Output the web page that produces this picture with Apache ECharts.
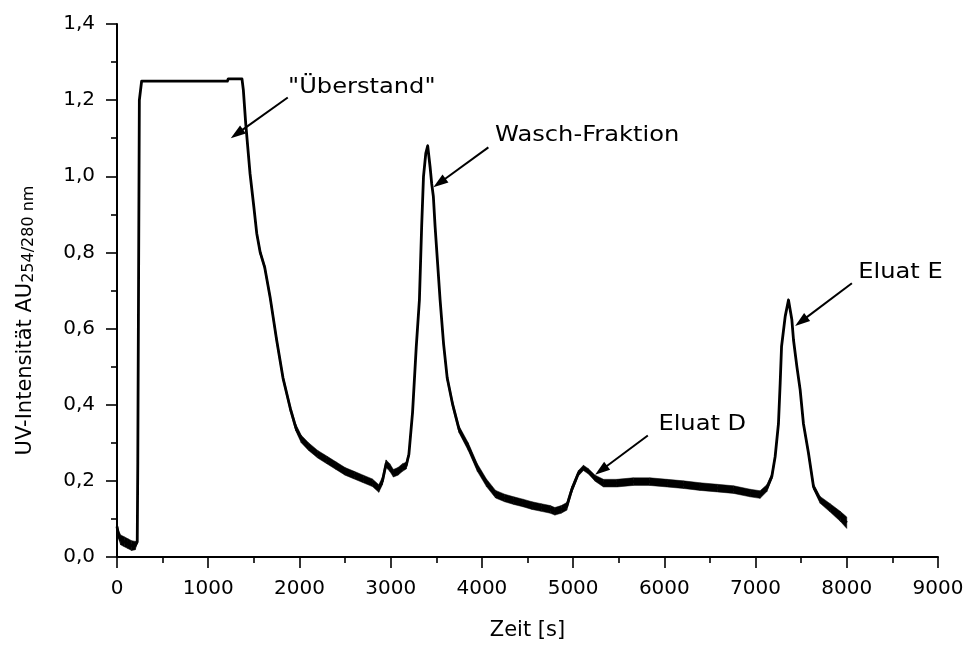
<!DOCTYPE html>
<html>
<head>
<meta charset="utf-8">
<title>UV-Chromatogramm</title>
<script src="https://cdn.jsdelivr.net/npm/echarts@6.0.0/dist/echarts.min.js"></script>
<style>
  html, body { margin: 0; padding: 0; background: #ffffff; }
  #chart { width: 966px; height: 646px; }
</style>
</head>
<body>
<div id="chart"></div>
<script>
// Retention time [s] and UV absorbance (AU at 254/280 nm)
const timeSec = [
  0, 15, 40, 80, 120, 160, 200, 222, 228, 238, 245, 270,
  1210, 1220, 1370, 1385, 1411, 1458, 1500, 1532, 1570, 1620, 1680, 1750,
  1820, 1900, 1960, 2020, 2100, 2200, 2300, 2400, 2500, 2600, 2700, 2800,
  2870, 2910, 2950, 2990, 3030, 3080, 3130, 3170, 3200, 3240, 3280, 3315,
  3340, 3360, 3385, 3406, 3432, 3450, 3468, 3487, 3515, 3542, 3580, 3620,
  3680, 3750, 3850, 3950, 4050, 4150, 4250, 4350, 4450, 4550, 4650, 4750,
  4800, 4870, 4930, 4985, 5058, 5113, 5168, 5241, 5333, 5480, 5660, 5840,
  6030, 6210, 6390, 6580, 6760, 6940, 7050, 7124, 7179, 7215, 7251, 7270,
  7285, 7325, 7361, 7398, 7416, 7453, 7489, 7525, 7580, 7635, 7708, 7818,
  7928, 8000
];
const uvSignal = [
  0.080, 0.060, 0.045, 0.040, 0.035, 0.030, 0.030, 0.040, 0.250, 0.250, 1.200, 1.250,
  1.250, 1.256, 1.256, 1.227, 1.139, 1.008, 0.920, 0.850, 0.800, 0.760, 0.680, 0.570,
  0.470, 0.390, 0.340, 0.310, 0.290, 0.270, 0.255, 0.240, 0.225, 0.215, 0.205, 0.195,
  0.180, 0.200, 0.245, 0.235, 0.220, 0.225, 0.235, 0.240, 0.270, 0.380, 0.550, 0.675,
  0.870, 1.000, 1.060, 1.080, 1.025, 0.980, 0.947, 0.868, 0.770, 0.675, 0.560, 0.470,
  0.400, 0.335, 0.290, 0.235, 0.195, 0.165, 0.155, 0.148, 0.142, 0.135, 0.130, 0.125,
  0.120, 0.125, 0.133, 0.177, 0.220, 0.234, 0.225, 0.207, 0.194, 0.194, 0.198, 0.198,
  0.194, 0.190, 0.185, 0.181, 0.177, 0.168, 0.164, 0.181, 0.212, 0.264, 0.350, 0.457,
  0.553, 0.632, 0.675, 0.623, 0.570, 0.500, 0.439, 0.350, 0.273, 0.185, 0.150, 0.129,
  0.107, 0.090
];
// Half-width of the detector noise band around the trace (AU)
const uvNoise = [
  0.004, 0.011, 0.013, 0.013, 0.013, 0.013, 0.011, 0.004, 0.000, 0.000, 0.000, 0.000,
  0.000, 0.000, 0.000, 0.000, 0.002, 0.003, 0.004, 0.005, 0.006, 0.006, 0.006, 0.007,
  0.007, 0.008, 0.009, 0.010, 0.010, 0.010, 0.010, 0.010, 0.010, 0.010, 0.010, 0.010,
  0.010, 0.010, 0.010, 0.010, 0.010, 0.010, 0.010, 0.009, 0.007, 0.005, 0.003, 0.003,
  0.003, 0.003, 0.003, 0.003, 0.003, 0.003, 0.003, 0.003, 0.004, 0.005, 0.006, 0.007,
  0.008, 0.009, 0.010, 0.010, 0.010, 0.010, 0.010, 0.010, 0.010, 0.010, 0.010, 0.010,
  0.010, 0.010, 0.010, 0.008, 0.007, 0.007, 0.007, 0.008, 0.010, 0.010, 0.010, 0.010,
  0.010, 0.010, 0.010, 0.010, 0.010, 0.010, 0.010, 0.009, 0.007, 0.005, 0.003, 0.003,
  0.003, 0.003, 0.003, 0.003, 0.003, 0.003, 0.003, 0.004, 0.005, 0.007, 0.009, 0.011,
  0.013, 0.015
];

// Axis tick labels (German decimal comma on the absorbance axis)
const xTickLabels = ['0', '1000', '2000', '3000', '4000', '5000', '6000', '7000', '8000', '9000'];
const yTickLabels = ['0,0', '0,2', '0,4', '0,6', '0,8', '1,0', '1,2', '1,4'];

// Peak annotations: label anchor, arrow start and arrow tip in data units
const annotations = [
  { text: '"Überstand"',    at: [1875, 1.234], from: [1872, 1.207], to: [1247, 1.100] },
  { text: 'Wasch-Fraktion', at: [4145, 1.106], from: [4071, 1.076], to: [3468, 0.971] },
  { text: 'Eluat D',        at: [5935, 0.347], from: [5819, 0.319], to: [5241, 0.216] },
  { text: 'Eluat E',        at: [8125, 0.746], from: [8056, 0.719], to: [7434, 0.607] }
];

const FONT = 'DejaVu Sans';
const chart = echarts.init(document.getElementById('chart'), null, { renderer: 'canvas' });

const traceData = timeSec.map((t, i) => [t, uvSignal[i]]);
// one band segment per pair of neighbouring samples
const bandSegments = timeSec.slice(0, -1).map((t, i) => [t, uvSignal[i]]);

function renderNoiseSegment(params, api) {
  const i = params.dataIndex;
  const j = i + 1;
  if (uvNoise[i] === 0 && uvNoise[j] === 0) return null;
  const a = api.coord([timeSec[i], uvSignal[i] + uvNoise[i]]);
  const b = api.coord([timeSec[j], uvSignal[j] + uvNoise[j]]);
  const c = api.coord([timeSec[j], uvSignal[j] - uvNoise[j]]);
  const d = api.coord([timeSec[i], uvSignal[i] - uvNoise[i]]);
  return {
    type: 'polygon',
    shape: { points: [a, b, c, d] },
    style: { fill: '#000', stroke: '#000', lineWidth: 0.5 }
  };
}

chart.setOption({
  animation: false,
  backgroundColor: '#ffffff',
  grid: { left: 117, right: 28, top: 24, bottom: 89, containLabel: false, outerBoundsMode: 'none' },
  xAxis: {
    type: 'value',
    min: 0,
    max: 9000,
    interval: 1000,
    name: 'Zeit [s]',
    nameLocation: 'middle',
    nameGap: 63,
    nameTextStyle: { fontFamily: FONT, fontSize: 21, color: '#000' },
    axisLine: { show: true, onZero: false, lineStyle: { color: '#000', width: 2 } },
    axisTick: { show: true, inside: false, length: 11, lineStyle: { color: '#000', width: 1.6 } },
    minorTick: { show: true, splitNumber: 2, length: 6, lineStyle: { color: '#000', width: 1.6 } },
    splitLine: { show: false },
    axisLabel: {
      margin: 22,
      fontFamily: FONT, fontSize: 20, color: '#000',
      formatter: (v) => xTickLabels[Math.round(v / 1000)]
    }
  },
  yAxis: {
    type: 'value',
    min: 0,
    max: 1.4,
    interval: 0.2,
    name: '{m|UV-Intensität AU}{s|254/280 nm}',
    nameLocation: 'middle',
    nameGap: 80,
    nameRotate: 90,
    nameTextStyle: {
      color: '#000',
      padding: [0, 60, 0, 0],
      rich: {
        m: { fontFamily: FONT, fontSize: 21, color: '#000', lineHeight: 22, verticalAlign: 'top' },
        s: { fontFamily: FONT, fontSize: 16, color: '#000', lineHeight: 17, verticalAlign: 'bottom', padding: [24, 0, 0, 0] }
      }
    },
    axisLine: { show: true, onZero: false, lineStyle: { color: '#000', width: 2 } },
    axisTick: { show: true, inside: false, length: 11, lineStyle: { color: '#000', width: 1.6 } },
    minorTick: { show: true, splitNumber: 2, length: 6, lineStyle: { color: '#000', width: 1.6 } },
    splitLine: { show: false },
    axisLabel: {
      margin: 22,
      fontFamily: FONT, fontSize: 20, color: '#000',
      formatter: (v) => yTickLabels[Math.round(v / 0.2)]
    }
  },
  series: [
    {
      // detector noise band around the trace
      type: 'custom',
      data: bandSegments,
      renderItem: renderNoiseSegment,
      silent: true,
      clip: true,
      z: 2
    },
    {
      // UV trace
      type: 'line',
      data: traceData,
      symbol: 'none',
      smooth: false,
      lineStyle: { color: '#000', width: 2.8, join: 'round' },
      z: 3
    }
  ]
});

// Annotation labels with arrows, placed through the grid's coordinate system
function buildAnnotations() {
  const items = [];
  annotations.forEach((a) => {
    const pt = chart.convertToPixel({ gridIndex: 0 }, a.at);
    const p0 = chart.convertToPixel({ gridIndex: 0 }, a.from);
    const p1 = chart.convertToPixel({ gridIndex: 0 }, a.to);
    const dx = p1[0] - p0[0], dy = p1[1] - p0[1];
    const len = Math.hypot(dx, dy);
    const ux = dx / len, uy = dy / len;
    const nx = -uy, ny = ux;
    const headLen = 15, headHalf = 5;
    const bx = p1[0] - ux * headLen, by = p1[1] - uy * headLen;
    items.push({
      type: 'line',
      shape: { x1: p0[0], y1: p0[1], x2: bx + ux * 2, y2: by + uy * 2 },
      style: { stroke: '#000', lineWidth: 2 },
      z: 10
    });
    items.push({
      type: 'polygon',
      shape: { points: [[p1[0], p1[1]], [bx + nx * headHalf, by + ny * headHalf], [bx - nx * headHalf, by - ny * headHalf]] },
      style: { fill: '#000' },
      z: 10
    });
    items.push({
      type: 'text',
      x: pt[0],
      y: pt[1],
      scaleX: 1.15,
      style: {
        text: a.text,
        fontFamily: FONT,
        fontSize: 21,
        fill: '#000',
        align: 'left',
        verticalAlign: 'middle'
      },
      z: 10
    });
  });
  chart.setOption({ graphic: items });
}
buildAnnotations();
</script>
</body>
</html>
